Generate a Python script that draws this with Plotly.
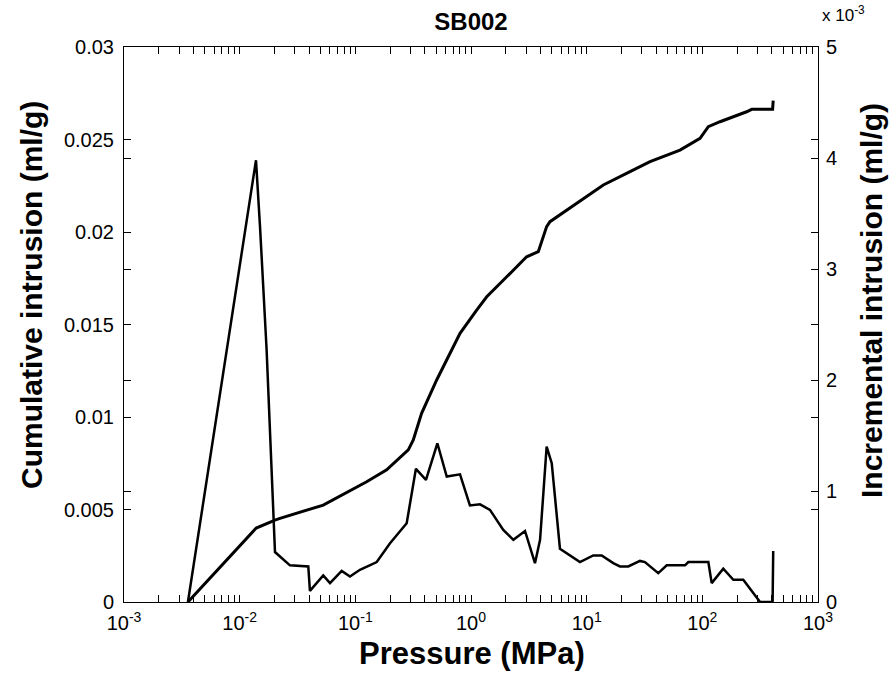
import plotly.graph_objects as go

# ---- data ----
pressure_cum = [0.00357, 0.0139, 0.0202, 0.0223, 0.0528, 0.1253, 0.1866, 0.287, 0.317,
                0.374, 0.505, 0.658, 0.804, 1.119, 1.368, 2.037, 3.027, 3.819, 4.508,
                4.819, 8.20, 13.93, 23.71, 35.32, 64.12, 95.5, 112.7, 142.2, 241.5,
                267.3, 405.0, 410.0]
cumulative = [0.0, 0.0040, 0.00443, 0.00452, 0.00524, 0.0065, 0.00714, 0.00822, 0.00876,
              0.0102, 0.0120, 0.01344, 0.01452, 0.01578, 0.0165, 0.01758, 0.01866, 0.01894,
              0.02029, 0.02056, 0.02155, 0.02254, 0.02326, 0.0238, 0.02443, 0.02506,
              0.02569, 0.02596, 0.0265, 0.02663, 0.02663, 0.0271]

pressure_inc = [0.00357, 0.01384, 0.0150, 0.0171, 0.0202, 0.0272, 0.0392, 0.0405, 0.0528,
                0.0604, 0.0762, 0.0899, 0.1096, 0.1531, 0.1995, 0.278, 0.334, 0.408, 0.512,
                0.617, 0.8035, 0.979, 1.197, 1.459, 1.901, 2.323, 2.931, 3.573, 3.954,
                4.508, 4.989, 5.875, 8.75, 11.40, 13.49, 16.98, 19.4, 22.9, 28.9, 31.9,
                41.6, 49.2, 70.8, 75.7, 112.7, 120.5, 151.7, 185.4, 225.9, 315.5, 405.0,
                410.0]
incremental = [0.0, 3.98e-3, 3.38e-3, 2.27e-3, 0.45e-3, 0.33e-3, 0.32e-3, 0.10e-3, 0.24e-3,
               0.17e-3, 0.28e-3, 0.23e-3, 0.29e-3, 0.36e-3, 0.53e-3, 0.71e-3, 1.20e-3,
               1.10e-3, 1.43e-3, 1.13e-3, 1.15e-3, 0.87e-3, 0.88e-3, 0.83e-3, 0.65e-3,
               0.56e-3, 0.64e-3, 0.35e-3, 0.56e-3, 1.40e-3, 1.25e-3, 0.48e-3, 0.36e-3,
               0.42e-3, 0.42e-3, 0.35e-3, 0.32e-3, 0.32e-3, 0.37e-3, 0.36e-3, 0.26e-3,
               0.33e-3, 0.33e-3, 0.36e-3, 0.36e-3, 0.17e-3, 0.30e-3, 0.20e-3, 0.20e-3,
               0.0, 0.0, 0.46e-3]

x_tick_vals = [1e-3, 1e-2, 1e-1, 1e0, 1e1, 1e2, 1e3]
x_tick_text = ["10<sup>-3</sup>", "10<sup>-2</sup>", "10<sup>-1</sup>", "10<sup>0</sup>",
               "10<sup>1</sup>", "10<sup>2</sup>", "10<sup>3</sup>"]
x_minor_vals = [k * 10.0 ** d for d in range(-3, 3) for k in range(2, 10)]
left_tick_vals = [0, 0.005, 0.01, 0.015, 0.02, 0.025, 0.03]
left_tick_text = ["0", "0.005", "0.01", "0.015", "0.02", "0.025", "0.03"]
right_tick_vals = [0, 1e-3, 2e-3, 3e-3, 4e-3, 5e-3]
right_tick_text = ["0", "1", "2", "3", "4", "5"]

FONT = "Liberation Sans, Arial, Helvetica, sans-serif"

fig = go.Figure()
fig.add_trace(go.Scatter(x=pressure_cum, y=cumulative, mode="lines",
                         line=dict(color="black", width=3), name="Cumulative",
                         yaxis="y"))
fig.add_trace(go.Scatter(x=pressure_inc, y=incremental, mode="lines",
                         line=dict(color="black", width=2.5), name="Incremental",
                         yaxis="y2"))

axis_common = dict(showgrid=False, zeroline=False, showline=True, linecolor="black",
                   linewidth=1, ticks="inside", ticklen=7, tickcolor="black",
                   automargin=False,
                   tickfont=dict(family=FONT, size=20, color="black"))

fig.update_layout(
    width=894, height=681,
    margin=dict(l=124, r=76, t=47, b=79),
    paper_bgcolor="white", plot_bgcolor="white",
    showlegend=False,
    font=dict(family=FONT, color="black"),
    title=dict(text="<b>SB002</b>", x=0.5, xref="paper", xanchor="center",
               y=1 - 22 / 681, yanchor="middle", font=dict(size=24, family=FONT)),
    xaxis=dict(type="log", range=[-3, 3], tickmode="array", tickvals=x_tick_vals,
               ticktext=x_tick_text, mirror="allticks", ticklabelstandoff=3,
               minor=dict(tickmode="array", tickvals=x_minor_vals, ticks="inside",
                          ticklen=4, tickcolor="black"),
               **axis_common),
    yaxis=dict(range=[0, 0.03], tickmode="array", tickvals=left_tick_vals,
               ticktext=left_tick_text, mirror="ticks", ticklabelstandoff=5,
               **axis_common),
    yaxis2=dict(range=[0, 0.005], tickmode="array", tickvals=right_tick_vals,
                ticktext=right_tick_text, overlaying="y", side="right",
                mirror="ticks", ticklabelstandoff=3, **axis_common),
    annotations=[
        dict(text="<b>Cumulative intrusion (ml/g)</b>", xref="paper", yref="paper",
             x=(31 - 124) / 694, y=(602 - 295) / 555, textangle=-90, showarrow=False,
             xanchor="center", yanchor="middle", font=dict(size=30, family=FONT)),
        dict(text="<b>Incremental intrusion (ml/g)</b>", xref="paper", yref="paper",
             x=(871 - 124) / 694, y=(602 - 300) / 555, textangle=-90, showarrow=False,
             xanchor="center", yanchor="middle", font=dict(size=30, family=FONT)),
        dict(text="<b>Pressure (MPa)</b>", xref="paper", yref="paper",
             x=(472 - 124) / 694, y=(602 - 653) / 555, showarrow=False,
             xanchor="center", yanchor="middle", font=dict(size=31, family=FONT)),
        dict(text="x 10<sup>-3</sup>", xref="paper", yref="paper",
             x=(820 - 124) / 694, y=(602 - 14) / 555, showarrow=False,
             xanchor="left", yanchor="middle", font=dict(size=17, family=FONT)),
    ],
)

fig.write_html("out.html",
               config={"displayModeBar": False},
               post_script="document.body.style.margin='0px';"
                           "document.body.style.overflow='hidden';")
